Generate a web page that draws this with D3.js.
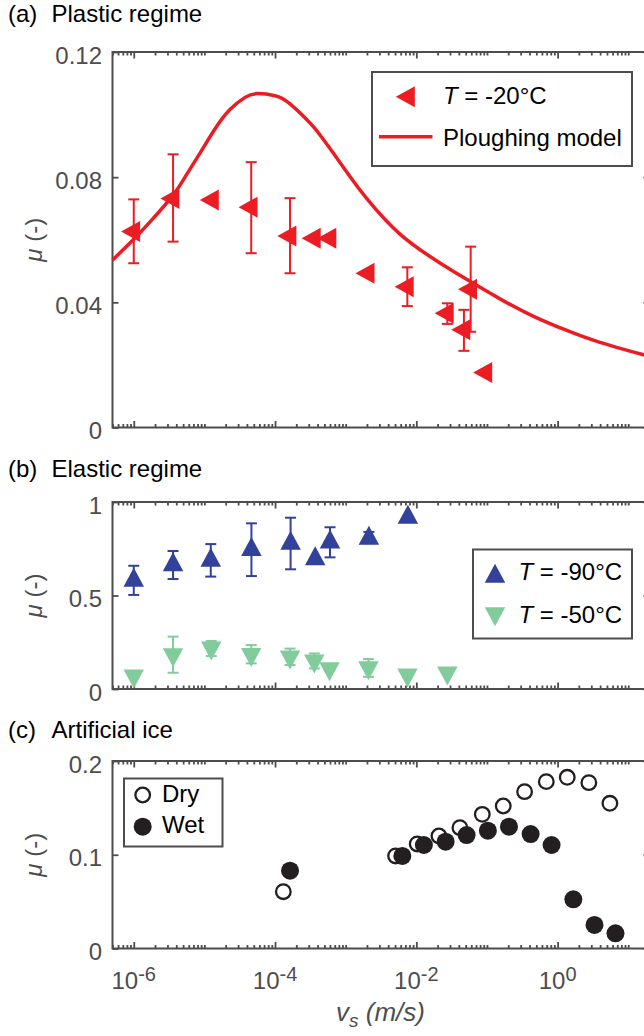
<!DOCTYPE html>
<html><head><meta charset="utf-8">
<script src="https://cdn.jsdelivr.net/npm/d3@7"></script>
<style>
body{margin:0;background:#fff}
svg{display:block}
text{font-family:"Liberation Sans",Arial,Helvetica,sans-serif}
</style>
</head><body>
<svg id="chart" width="644" height="1036"></svg>
<script>
// ---------------- data ----------------
const xDomain = [5e-7, 20];
const xMajorLabels = [[1e-6, "-6"], [1e-4, "-4"], [1e-2, "-2"], [1, "0"]];

// (a) Plastic regime, T = -20 °C
const plasticV  = [1e-6, 3.6e-6, 1.3e-5, 4.6e-5, 1.63e-4, 3.6e-4, 6.0e-4, 2.08e-3, 7.46e-3, 0.0275, 0.0472, 0.0588, 0.0964];
const plasticMu = [0.0626, 0.0732, 0.0727, 0.0704, 0.0612, 0.0605, 0.0605, 0.0493, 0.045, 0.0365, 0.0312, 0.0442, 0.0176];
const plasticLo = [0.0525, 0.0594, null, 0.0557, 0.0493, null, null, null, 0.0388, 0.0331, 0.0245, 0.0306, null];
const plasticHi = [0.0729, 0.0873, null, 0.0848, 0.0733, null, null, null, 0.0512, 0.0397, 0.0376, 0.0578, null];

// Ploughing model
const ploughV  = [5e-7, 9.75e-7, 1.7e-6, 3.44e-6, 5.31e-6, 8.67e-6, 1.41e-5, 2.3e-5, 3.76e-5, 5.56e-5, 1e-4, 1.63e-4, 3.13e-4, 4.33e-4, 6.68e-4, 1.15e-3, 1.98e-3, 5.87e-3, 0.0216, 0.0575, 0.153, 0.449, 1.35, 3.98, 16.7, 20];
const ploughMu = [0.0535, 0.0599, 0.0657, 0.0737, 0.0800, 0.0877, 0.0954, 0.1016, 0.1055, 0.1067, 0.1060, 0.1034, 0.0973, 0.0935, 0.0877, 0.0802, 0.0732, 0.0618, 0.0526, 0.0467, 0.0411, 0.0356, 0.0310, 0.0272, 0.0232, 0.0227];

// (b) Elastic regime
const m90V  = [1e-6, 3.6e-6, 1.23e-5, 4.63e-5, 1.66e-4, 3.7e-4, 6.0e-4, 2.13e-3, 7.6e-3];
const m90Mu = [0.581, 0.663, 0.688, 0.745, 0.778, 0.696, 0.785, 0.805, 0.917];
const m90Lo = [0.503, 0.588, 0.601, 0.604, 0.640, null, 0.704, 0.78, null];
const m90Hi = [0.659, 0.738, 0.775, 0.886, 0.916, null, 0.865, 0.84, null];

const m50V  = [1e-6, 3.6e-6, 1.25e-5, 4.6e-5, 1.63e-4, 3.6e-4, 5.9e-4, 2.1e-3, 7.5e-3, 0.0275];
const m50Mu = [0.071, 0.184, 0.22, 0.186, 0.172, 0.15, 0.109, 0.115, 0.076, 0.087];
const m50Lo = [null, 0.087, 0.176, 0.137, 0.128, 0.11, null, 0.065, null, null];
const m50Hi = [null, 0.28, 0.257, 0.235, 0.216, 0.19, null, 0.16, null, null];

// (c) Artificial ice
const dryV  = [1.31e-4, 5.09e-3, 0.0103, 0.0209, 0.0414, 0.0859, 0.170, 0.341, 0.692, 1.37, 2.77, 5.5];
const dryMu = [0.0606, 0.0987, 0.1115, 0.12, 0.1289, 0.1431, 0.152, 0.1673, 0.178, 0.1826, 0.1769, 0.1549];
const wetV  = [1.63e-4, 6.34e-3, 0.0128, 0.026, 0.0515, 0.103, 0.205, 0.415, 0.822, 1.67, 3.33, 6.6];
const wetMu = [0.083, 0.0987, 0.1104, 0.114, 0.121, 0.1257, 0.13, 0.1221, 0.1104, 0.0525, 0.0251, 0.0162];

// ---------------- styles ----------------
const AX = "#4d4d4d";
const RED = "#ec1c24";
const BLUE = "#32429a";
const GREEN = "#82cb9b";
const BLACK = "#231f20";
const FONT = '"Liberation Sans", Arial, Helvetica, sans-serif';

const svg = d3.select("#chart");
svg.append("rect").attr("width", 644).attr("height", 1036).attr("fill", "#fff");

const x = d3.scaleLog().domain(xDomain).range([112.5, 649.5]);

// log tick values
const xMinor = [], xMajor = [];
for (let d = -7; d <= 1; d++) {
  for (let m = 1; m <= 9; m++) {
    const v = m * Math.pow(10, d);
    if (v < xDomain[0] * 0.999 || v > xDomain[1] * 1.001) continue;
    if (m === 1 && d % 2 === 0) xMajor.push(v); else xMinor.push(v);
  }
}

function styleAxis(sel) {
  sel.select(".domain").remove();
  sel.selectAll("line").attr("stroke", AX).attr("stroke-width", 1.8);
}

function addPanel(top, bottom, ymax, yTicks, yTickLabels) {
  const [x0, x1] = x.range();
  const y = d3.scaleLinear().domain([0, ymax]).range([bottom, top]);
  const g = svg.append("g");
  g.append("g").attr("transform", `translate(0,${bottom})`)
    .call(d3.axisBottom(x).tickValues(xMinor).tickSize(-3.5).tickFormat("")).call(styleAxis);
  g.append("g").attr("transform", `translate(0,${bottom})`)
    .call(d3.axisBottom(x).tickValues(xMajor).tickSize(-6.5).tickFormat("")).call(styleAxis);
  g.append("g").attr("transform", `translate(0,${top})`)
    .call(d3.axisTop(x).tickValues(xMinor).tickSize(-3.5).tickFormat("")).call(styleAxis);
  g.append("g").attr("transform", `translate(0,${top})`)
    .call(d3.axisTop(x).tickValues(xMajor).tickSize(-6.5).tickFormat("")).call(styleAxis);
  const la = g.append("g").attr("transform", `translate(${x0},0)`)
    .call(d3.axisLeft(y).tickValues(yTicks).tickSize(-6).tickPadding(10.5)
      .tickFormat((d, i) => yTickLabels[i]))
    .call(styleAxis);
  la.attr("font-family", FONT).attr("font-size", 24);
  la.selectAll("text").attr("fill", AX).attr("dy", "0.46em").attr("font-size", 24).attr("font-family", FONT);
  g.append("g").attr("transform", `translate(${x1},0)`)
    .call(d3.axisRight(y).tickValues(yTicks).tickSize(-6).tickFormat("")).call(styleAxis);
  g.append("rect").attr("x", x0).attr("y", top).attr("width", x1 - x0).attr("height", bottom - top)
    .attr("fill", "none").attr("stroke", AX).attr("stroke-width", 2);
  // y label
  const yl = g.append("text").attr("transform", `translate(42,${(top + bottom) / 2}) rotate(-90)`)
    .attr("text-anchor", "middle").attr("font-size", 24).attr("fill", AX);
  yl.append("tspan").attr("font-style", "italic").text("\u03bc");
  yl.append("tspan").text(" (-)");
  return y;
}

function title(letter, name, baseY) {
  svg.append("text").attr("x", 8).attr("y", baseY).attr("font-size", 24).attr("fill", "#000").text(letter);
  svg.append("text").attr("x", 51.5).attr("y", baseY).attr("font-size", 24).attr("fill", "#000").text(name);
}

// triangles with centroid at origin
function triPath(dir, w, h) {
  if (dir === "left") return `M${-2 * w / 3},0L${w / 3},${-h / 2}L${w / 3},${h / 2}Z`;
  if (dir === "up") return `M0,${-2 * h / 3}L${w / 2},${h / 3}L${-w / 2},${h / 3}Z`;
  return `M0,${2 * h / 3}L${w / 2},${-h / 3}L${-w / 2},${-h / 3}Z`;
}

function errorBars(g, y, vs, lo, hi, color) {
  const idx = vs.map((v, i) => i).filter(i => lo[i] != null);
  const eg = g.append("g").attr("stroke", color).attr("stroke-width", 2).attr("fill", "none");
  idx.forEach(i => {
    const cx = x(vs[i]);
    eg.append("line").attr("x1", cx).attr("x2", cx).attr("y1", y(lo[i])).attr("y2", y(hi[i]));
    eg.append("line").attr("x1", cx - 5.5).attr("x2", cx + 5.5).attr("y1", y(lo[i])).attr("y2", y(lo[i]));
    eg.append("line").attr("x1", cx - 5.5).attr("x2", cx + 5.5).attr("y1", y(hi[i])).attr("y2", y(hi[i]));
  });
}

function triangles(g, y, vs, mus, dir, w, h, color) {
  g.append("g").selectAll("path").data(vs).join("path")
    .attr("transform", (v, i) => `translate(${x(v)},${y(mus[i])})`)
    .attr("d", triPath(dir, w, h)).attr("fill", color);
}

// ---------------- (a) ----------------
title("(a)", "Plastic regime", 22);
const ya = addPanel(52, 427.5, 0.12, [0, 0.04, 0.08, 0.12], ["0", "0.04", "0.08", "0.12"]);
const ga = svg.append("g");
const curve = d3.line().x(d => x(d[0])).y(d => ya(d[1])).curve(d3.curveNatural);
ga.append("path").datum(ploughV.map((v, i) => [v, ploughMu[i]])).attr("d", curve)
  .attr("fill", "none").attr("stroke", RED).attr("stroke-width", 3.5);
errorBars(ga, ya, plasticV, plasticLo, plasticHi, RED);
triangles(ga, ya, plasticV, plasticMu, "left", 19, 21, RED);
// legend a
const lga = svg.append("g");
lga.append("rect").attr("x", 372).attr("y", 72).attr("width", 260).attr("height", 94)
  .attr("fill", "#fff").attr("stroke", AX).attr("stroke-width", 2);
lga.append("path").attr("transform", "translate(408.5,96.7)").attr("d", triPath("left", 19, 21)).attr("fill", RED);
const ta = lga.append("text").attr("x", 443).attr("y", 104).attr("font-size", 24).attr("fill", "#000");
ta.append("tspan").attr("font-style", "italic").text("T");
ta.append("tspan").text(" = -20\u00b0C");
lga.append("line").attr("x1", 379).attr("x2", 432.5).attr("y1", 136.7).attr("y2", 136.7)
  .attr("stroke", RED).attr("stroke-width", 3.5);
lga.append("text").attr("x", 443).attr("y", 145.5).attr("font-size", 24).attr("fill", "#000").text("Ploughing model");

// ---------------- (b) ----------------
title("(b)", "Elastic regime", 476.7);
const yb = addPanel(502, 689, 1, [0, 0.5, 1], ["0", "0.5", "1"]);
const gb = svg.append("g");
errorBars(gb, yb, m90V, m90Lo, m90Hi, BLUE);
triangles(gb, yb, m90V, m90Mu, "up", 20.5, 19, BLUE);
errorBars(gb, yb, m50V, m50Lo, m50Hi, GREEN);
triangles(gb, yb, m50V, m50Mu, "down", 20.5, 19, GREEN);
// legend b
const lgb = svg.append("g");
lgb.append("rect").attr("x", 473).attr("y", 549.5).attr("width", 159).attr("height", 89)
  .attr("fill", "#fff").attr("stroke", AX).attr("stroke-width", 2);
lgb.append("path").attr("transform", "translate(495,576.5)").attr("d", triPath("up", 20.5, 19)).attr("fill", BLUE);
lgb.append("path").attr("transform", "translate(495,613.5)").attr("d", triPath("down", 20.5, 19)).attr("fill", GREEN);
const tb1 = lgb.append("text").attr("x", 518.5).attr("y", 580).attr("font-size", 24).attr("fill", "#000");
tb1.append("tspan").attr("font-style", "italic").text("T");
tb1.append("tspan").text(" = -90\u00b0C");
const tb2 = lgb.append("text").attr("x", 518.5).attr("y", 623.3).attr("font-size", 24).attr("fill", "#000");
tb2.append("tspan").attr("font-style", "italic").text("T");
tb2.append("tspan").text(" = -50\u00b0C");

// ---------------- (c) ----------------
title("(c)", "Artificial ice", 738.3);
const yc = addPanel(761, 948.5, 0.2, [0, 0.1, 0.2], ["0", "0.1", "0.2"]);
const gc = svg.append("g");
gc.append("g").selectAll("circle").data(dryV).join("circle")
  .attr("cx", v => x(v)).attr("cy", (v, i) => yc(dryMu[i])).attr("r", 7.3)
  .attr("fill", "none").attr("stroke", BLACK).attr("stroke-width", 2.3);
gc.append("g").selectAll("circle").data(wetV).join("circle")
  .attr("cx", v => x(v)).attr("cy", (v, i) => yc(wetMu[i])).attr("r", 9)
  .attr("fill", BLACK);
// legend c
const lgc = svg.append("g");
lgc.append("rect").attr("x", 124).attr("y", 778.5).attr("width", 98.5).attr("height", 68)
  .attr("fill", "#fff").attr("stroke", AX).attr("stroke-width", 2);
lgc.append("circle").attr("cx", 142.7).attr("cy", 795).attr("r", 7.3).attr("fill", "none").attr("stroke", BLACK).attr("stroke-width", 2.3);
lgc.append("circle").attr("cx", 142.7).attr("cy", 826.7).attr("r", 9).attr("fill", BLACK);
lgc.append("text").attr("x", 162).attr("y", 801.7).attr("font-size", 24).attr("fill", "#000").text("Dry");
lgc.append("text").attr("x", 162).attr("y", 833.3).attr("font-size", 24).attr("fill", "#000").text("Wet");

// x tick labels (panel c)
xMajorLabels.forEach(([v, e]) => {
  const t = svg.append("text").attr("x", x(v)).attr("y", 989).attr("text-anchor", "middle")
    .attr("font-size", 24).attr("fill", AX);
  t.append("tspan").text("10");
  t.append("tspan").attr("font-size", 20).attr("dy", -8).text(e);
});
// x axis label
const xl = svg.append("text").attr("x", 380.5).attr("y", 1021).attr("text-anchor", "middle")
  .attr("font-size", 26).attr("font-style", "italic").attr("fill", AX);
xl.append("tspan").text("v");
xl.append("tspan").attr("font-size", 19).attr("dy", 6).text("s");
xl.append("tspan").attr("dy", -6).text(" (m/s)");
</script>
</body></html>
